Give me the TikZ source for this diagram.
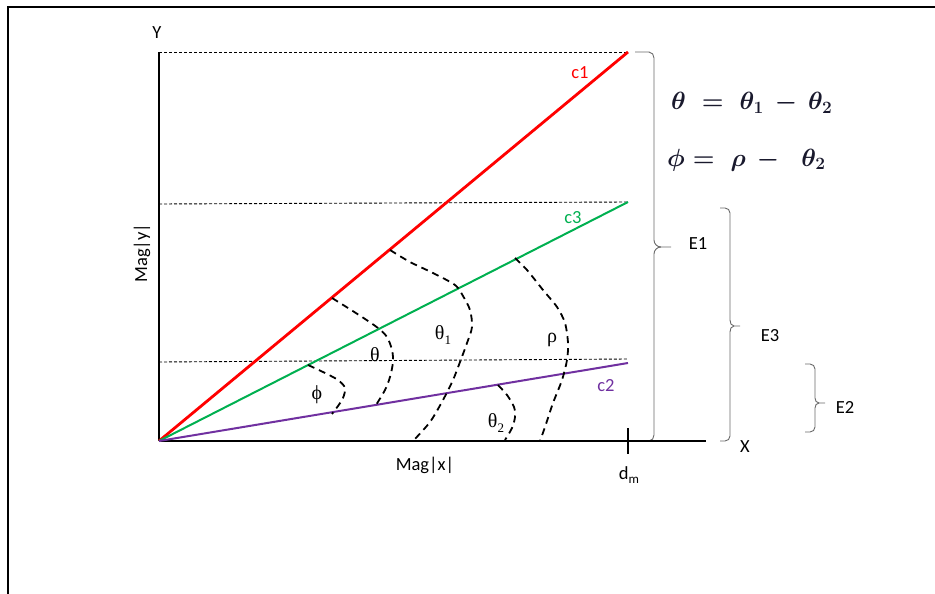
\documentclass[tikz,border=0pt]{standalone}
\usepackage{fontspec}
\setmainfont{Carlito}
\newfontfamily\grk{Liberation Serif}
\definecolor{cred}{RGB}{255,0,0}
\definecolor{cgreen}{RGB}{0,176,80}
\definecolor{cpurple}{RGB}{112,48,160}
\definecolor{bracegray}{RGB}{105,105,105}
\definecolor{eqcol}{RGB}{25,25,45}
\begin{document}
\begin{tikzpicture}[x=1pt,y=-1pt,
  axis/.style={line width=2.4pt,black},
  hdash/.style={line width=0.9pt,dash pattern=on 3pt off 2pt},
  arcd/.style={line width=1.8pt,dash pattern=on 7pt off 5pt},
  brc/.style={line width=0.9pt,bracegray},
  lbl/.style={font=\fontsize{18.5}{20}\selectfont,inner sep=0pt},
  glbl/.style={font=\fontsize{20}{22}\selectfont\grk,inner sep=0pt},
  eq/.style={font=\fontsize{27}{30}\selectfont\boldmath,text=eqcol,inner sep=0pt,anchor=west}]
\useasboundingbox (0,0) rectangle (935,594);
% frame
\draw[line width=2.6pt] (8,594) -- (8,7) -- (935,7);
% key points
\coordinate (O) at (159,441);
\coordinate (ytop) at (159,52);
\coordinate (xend) at (706,441);
\coordinate (c1end) at (628,52);
\coordinate (c3end) at (628,202);
\coordinate (c2end) at (628,363);
\coordinate (h1) at (159,52);
\coordinate (h2) at (159,204);
\coordinate (h3) at (159,362);
\coordinate (h3end) at (628,359);
\coordinate (dmtop) at (628,428);
\coordinate (dmbot) at (628,454);
% braces (drawn first so the axis covers their feet)
\draw[brc] (635,52) -- (649,52) to[out=0,in=90] (654,58) -- (654,240) to[out=-90,in=180] (661,247) -- (671,247);
\draw[brc] (661,247) to[out=180,in=90] (654,254) -- (654,435) to[out=-90,in=0] (649,441) -- (635,441);
\draw[brc] (720,208) -- (725,208) to[out=0,in=90] (730,213) -- (730,320) to[out=-90,in=180] (734,326) -- (740,326);
\draw[brc] (734,326) to[out=180,in=90] (730,332) -- (730,436) to[out=-90,in=0] (725,441) -- (720,441);
\draw[brc] (805,364) -- (810,364) to[out=0,in=90] (815,369) -- (815,398) to[out=-90,in=180] (819,403) -- (825,403);
\draw[brc] (819,403) to[out=180,in=90] (815,408) -- (815,427) to[out=-90,in=0] (810,432) -- (805,432);
% dashed horizontals
\draw[hdash] (h1) -- (c1end);
\draw[hdash] (h2) -- (c3end);
\draw[hdash] (h3) -- (h3end);
% axes
\draw[axis] (O) -- (ytop);
\draw[axis] (O) -- (xend);
\draw[axis] (dmtop) -- (dmbot);
% lines
\draw[cred,line width=2.8pt] (O) -- (c1end);
\draw[cgreen,line width=2pt] (O) -- (c3end);
\draw[cpurple,line width=2pt] (O) -- (c2end);
% dashed arcs
\draw[arcd] plot[smooth] coordinates {(332,298) (348,308) (362,317) (378,328) (387,337) (392,350) (393,362) (390,377) (385,390) (376,405)};
\draw[arcd] plot[smooth] coordinates {(308,365) (323,372) (338,380) (345,388) (343,398) (338,406) (332,414)};
\draw[arcd] plot[smooth] coordinates {(390,250) (410,262) (433,273) (455,285) (463,296) (470,310) (472,327) (467,343) (460,362) (453,380) (443,400) (430,422) (413,441)};
\draw[arcd] plot[smooth] coordinates {(515,258) (527,270) (543,290) (557,307) (565,323) (568,343) (567,360) (562,380) (553,403) (545,427) (540,441)};
\draw[arcd] plot[smooth] coordinates {(498,385) (507,395) (514,407) (515,417) (512,428) (505,440)};
% labels
\node[lbl] (ylab) at (157,33) {Y};
\node[lbl] (xlab) at (745,447) {X};
\node[lbl] (e1) at (698,244) {E1};
\node[lbl] (e3) at (770,336) {E3};
\node[lbl] (e2) at (845,407) {E2};
\node[lbl,text=cred] (c1lab) at (580,73) {c1};
\node[lbl,text=cgreen] (c3lab) at (573,218) {c3};
\node[lbl,text=cpurple] (c2lab) at (606,386) {c2};
\node[lbl] (magx) at (425,465) {Mag|x|};
\node[lbl] (dm) at (629,475) {d\raisebox{-4pt}{\fontsize{13}{14}\selectfont m}};
\node[lbl,rotate=90] (magy) at (142,253) {Mag|y|};
\node[glbl] (th) at (375,355) {θ};
\node[glbl] (th1) at (443,335) {θ\raisebox{-5pt}{\fontsize{13}{14}\selectfont 1}};
\node[glbl] (rho) at (552,340) {ρ};
\node[glbl] (phi) at (317,395) {ϕ};
\node[glbl] (th2) at (496,423) {θ\raisebox{-5pt}{\fontsize{13}{14}\selectfont 2}};
\node[eq] (eq1) at (671,103) {$\theta \;=\; \theta_1 \,-\, \theta_2$};
\node[eq] (eq2) at (667,160) {$\phi = \;\rho \,-\;\; \theta_2$};
\end{tikzpicture}
\end{document}
